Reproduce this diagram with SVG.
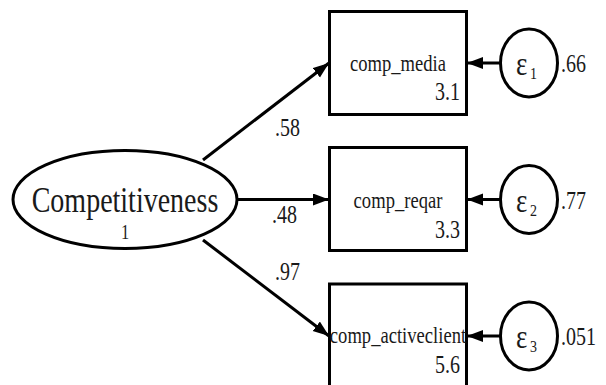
<svg xmlns="http://www.w3.org/2000/svg" width="606" height="385" viewBox="0 0 606 385">
  <style>
    .shape { fill: #ffffff; stroke: #000000; stroke-width: 3; }
    .edge { fill: none; stroke: #000000; stroke-width: 3; }
    text { fill: #1a1a1a; }
    .lat { font-size: 28px; text-anchor: middle; }
    .var { font-size: 18.6px; text-anchor: middle; }
    .num { font-size: 20px; }
    .mean { font-size: 20px; text-anchor: end; }
    .eps { font-size: 27px; }
    .sub { font-size: 14px; }
  </style>
  <defs>
    <marker id="arrow" markerUnits="userSpaceOnUse" markerWidth="17" markerHeight="13" refX="16" refY="6" orient="auto">
      <path d="M0,0 L16,6 L0,12 z" fill="#000000"/>
    </marker>
  </defs>

  <g font-family="'Liberation Serif', 'Times New Roman', serif">
  <!-- paths -->
  <g id="connectors">
    <line class="edge" x1="203" y1="160" x2="329" y2="63" marker-end="url(#arrow)"/>
    <line class="edge" x1="237" y1="199.5" x2="329" y2="199.5" marker-end="url(#arrow)"/>
    <line class="edge" x1="203" y1="240" x2="329" y2="336" marker-end="url(#arrow)"/>
    <line class="edge" x1="500.5" y1="63" x2="467" y2="63" marker-end="url(#arrow)"/>
    <line class="edge" x1="500.5" y1="199.5" x2="467" y2="199.5" marker-end="url(#arrow)"/>
    <line class="edge" x1="500.5" y1="336" x2="467" y2="336" marker-end="url(#arrow)"/>
    <text class="num" transform="translate(275,136) scale(1,1.22)">.58</text>
    <text class="num" transform="translate(272,223) scale(1,1.22)">.48</text>
    <text class="num" transform="translate(275,280) scale(1,1.22)">.97</text>
  </g>

  <!-- latent variable: name with its variance underneath -->
  <g id="competitiveness">
    <ellipse class="shape" cx="125" cy="199.5" rx="112" ry="49"/>
    <text class="lat" transform="translate(125,212) scale(1,1.25)">Competitiveness</text>
    <text class="lat" style="font-size:16.5px" transform="translate(125,239) scale(1,1.25)">1</text>
  </g>

  <!-- observed variables -->
  <g id="comp_media">
    <rect class="shape" x="329.5" y="11.5" width="137" height="103"/>
    <text class="var" transform="translate(398,71) scale(1,1.22)">comp_media</text>
    <text class="mean" transform="translate(460,100) scale(1,1.22)">3.1</text>
  </g>
  <g id="comp_reqar">
    <rect class="shape" x="329.5" y="147.5" width="137" height="103"/>
    <text class="var" transform="translate(398,208) scale(1,1.22)">comp_reqar</text>
    <text class="mean" transform="translate(460,238) scale(1,1.22)">3.3</text>
  </g>
  <g id="comp_activeclient">
    <rect class="shape" x="329.5" y="284" width="137" height="103"/>
    <text class="var" transform="translate(398,343) scale(1,1.22)">comp_activeclient</text>
    <text class="mean" transform="translate(460,373) scale(1,1.22)">5.6</text>
  </g>

  <!-- error terms -->
  <g id="e1">
    <ellipse class="shape" cx="529" cy="63" rx="28.5" ry="34"/>
    <text class="eps" transform="translate(516,75) scale(1,1.22)">ε</text>
    <text class="sub" transform="translate(530,79) scale(1,1.22)">1</text>
    <text class="num" transform="translate(561,72) scale(1,1.22)">.66</text>
  </g>
  <g id="e2">
    <ellipse class="shape" cx="529" cy="199.5" rx="28.5" ry="34"/>
    <text class="eps" transform="translate(516,211.5) scale(1,1.22)">ε</text>
    <text class="sub" transform="translate(530,215.5) scale(1,1.22)">2</text>
    <text class="num" transform="translate(561,209) scale(1,1.22)">.77</text>
  </g>
  <g id="e3">
    <ellipse class="shape" cx="529" cy="336" rx="28.5" ry="34"/>
    <text class="eps" transform="translate(516,348) scale(1,1.22)">ε</text>
    <text class="sub" transform="translate(530,352) scale(1,1.22)">3</text>
    <text class="num" transform="translate(561,345) scale(1,1.22)">.051</text>
  </g>
  </g>
</svg>
